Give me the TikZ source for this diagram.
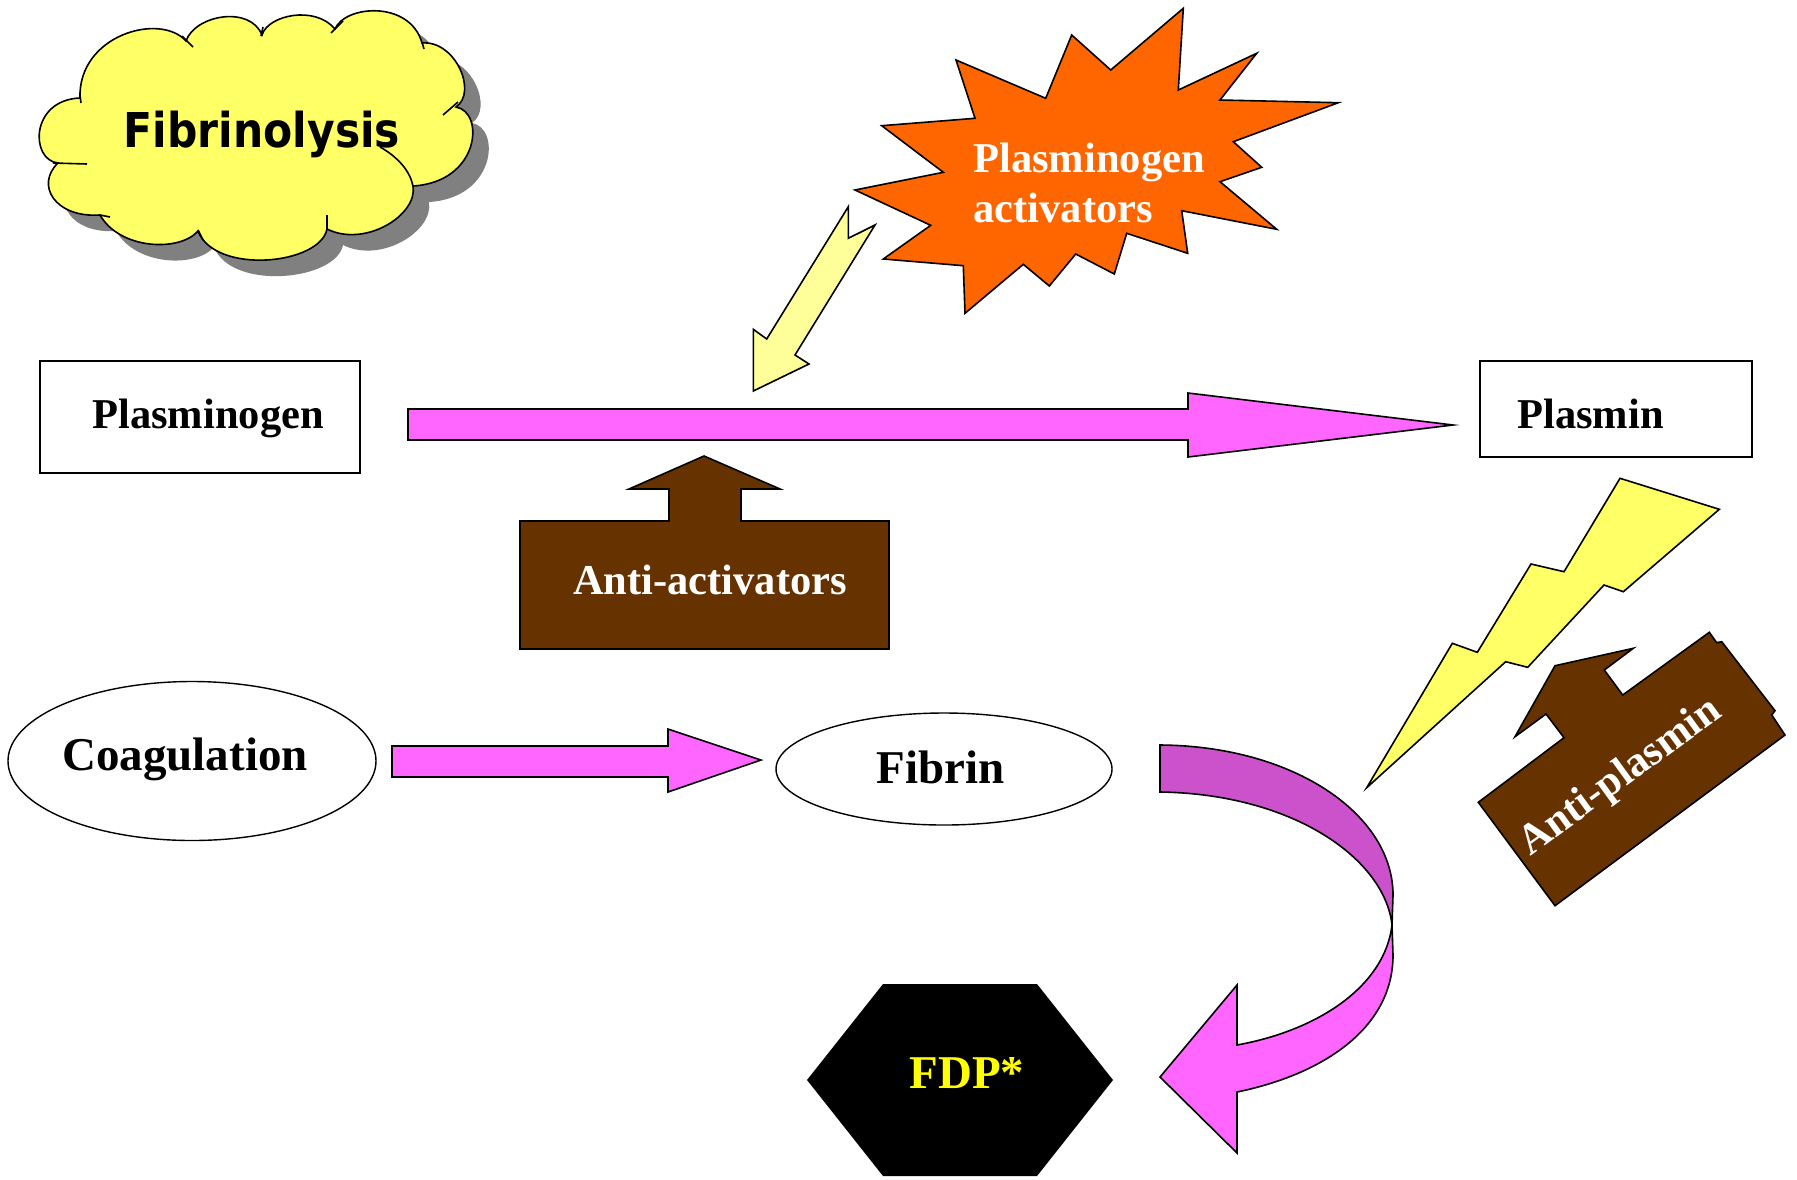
\documentclass[tikz,border=0pt]{standalone}
\usepackage{fontspec}
\setmainfont{Liberation Serif}
\newfontfamily\cloudfont{DejaVu Sans}
\usetikzlibrary{shapes.geometric}
\definecolor{cloudyellow}{HTML}{FFFF66}
\definecolor{shadowgray}{HTML}{808080}
\definecolor{burstorange}{HTML}{FF6600}
\definecolor{paleyellow}{HTML}{FFFF99}
\definecolor{arrowmagenta}{HTML}{FF66FF}
\definecolor{bandpurple}{HTML}{CC52CC}
\definecolor{brownbox}{HTML}{663300}
\definecolor{fdpyellow}{HTML}{FFFF00}
\begin{document}
\begin{tikzpicture}[x=0.5pt,y=-0.5pt,line join=miter,
  outl/.style={draw=black,line width=0.8pt},
  boxstyle/.style={draw=black,line width=1pt,inner sep=0pt,rectangle},
  ellstyle/.style={draw=black,line width=0.7pt,inner sep=0pt,ellipse},
  lbl/.style={font=\fontsize{21.25}{25}\selectfont\bfseries,inner sep=0pt},
  biglbl/.style={font=\fontsize{23.5}{28}\selectfont\bfseries,inner sep=0pt}]
\useasboundingbox (0,0) rectangle (1797,1179);
\fill[white] (0,0) rectangle (1797,1179);

% ---------- cloud ----------
\def\cloudpath{(80,98)
 .. controls (78,35) and (160,12) .. (186,41)
 .. controls (195,15) and (250,5) .. (262,35)
 .. controls (268,15) and (315,5) .. (335,29)
 .. controls (345,5) and (410,0) .. (422,43)
 .. controls (455,40) and (478,92) .. (456,107)
 .. controls (485,112) and (480,182) .. (413,186)
 .. controls (418,215) and (365,248) .. (327,229)
 .. controls (320,265) and (215,275) .. (198,231)
 .. controls (180,252) and (120,250) .. (100,215)
 .. controls (55,218) and (35,185) .. (58,163)
 .. controls (30,160) and (30,100) .. (80,98) -- cycle}
\begin{scope}[shift={(16,16)}]
  \fill[shadowgray] \cloudpath;
\end{scope}
\path[fill=cloudyellow,outl] \cloudpath;
\draw[line width=0.8pt] (182,36) -- (193,47);
\draw[line width=0.8pt] (263,27) -- (261,36);
\draw[line width=0.8pt] (331,33) -- (343,21);
\draw[line width=0.8pt] (422,42) -- (424,49);
\draw[line width=0.8pt] (443,115) -- (458,102);
\draw[line width=0.8pt] (380,147) .. controls (398,157) and (411,172) .. (413,187);
\draw[line width=0.8pt] (327,215) -- (327,230);
\draw[line width=0.8pt] (198,230) -- (203,240);
\draw[line width=0.8pt] (100,215) -- (110,217);
\draw[line width=0.8pt] (53,163) -- (87,164);
\draw[line width=0.8pt] (80,95) -- (81,103);
\node[font=\cloudfont\bfseries\fontsize{24}{28}\selectfont,inner sep=0pt,xscale=0.885,anchor=base] (title) at (262,147) {Fibrinolysis};

% ---------- starburst ----------
\path[fill=burstorange,outl] (1183.3,8.3) -- (1178.3,90) -- (1256.7,53.3) -- (1220,100) -- (1338.3,102.7) -- (1233.3,141.7) -- (1261.7,167.3) -- (1220,181.7) -- (1276.7,229.3) -- (1181.7,210.7) -- (1187.7,253.3) -- (1126.7,233.3) -- (1114.3,274) -- (1075.7,254) -- (1049.3,286) -- (1023.3,264.3) -- (965,313.3) -- (963.3,265.7) -- (883.3,259) -- (930.7,225.3) -- (855,190) -- (943.3,172.3) -- (881.7,125.7) -- (975,118.3) -- (956,60) -- (1045.7,98.3) -- (1071.7,35) -- (1110.7,70) -- cycle;
\node[lbl,text=white,anchor=base west] (pa1) at (973,172) {Plasminogen};
\node[lbl,text=white,anchor=base west] (pa2) at (973,222) {activators};

% ---------- pale yellow arrow ----------
\path[fill=paleyellow,outl] (848.3,206.7) -- (848.3,238.3) -- (875,225) -- (795,355) -- (809,364) -- (753.3,391) -- (753.3,329.3) -- (766.7,339) -- cycle;

% ---------- boxes ----------
\node[boxstyle,minimum width=160pt,minimum height=56pt] (plgbox) at (200,417) {};
\node[lbl,anchor=base west] (plg) at (92,428) {Plasminogen};
\node[boxstyle,minimum width=136pt,minimum height=48pt] (plsbox) at (1616,409) {};
\node[lbl,anchor=base west] (pls) at (1517,428) {Plasmin};

% ---------- main magenta arrow ----------
\path[fill=arrowmagenta,outl] (408,409) -- (1188,409) -- (1188,393) -- (1453,425) -- (1188,457) -- (1188,440) -- (408,440) -- cycle;

% ---------- anti-activators ----------
\path[fill=brownbox,outl] (520,521) -- (669,521) -- (669,489) -- (629,489) -- (704,456) -- (780,489) -- (741,489) -- (741,521) -- (889,521) -- (889,649) -- (520,649) -- cycle;
\node[lbl,text=white,anchor=base] (aa) at (710,594) {Anti-activators};

% ---------- lightning bolt ----------
\path[fill=cloudyellow,outl] (1620,478.3) -- (1719.3,509.3) -- (1623.3,591.7) -- (1604,585) -- (1527.7,667.3) -- (1505.7,661.7) -- (1366.7,787.7) -- (1452.3,643.3) -- (1477.3,652.3) -- (1531,564) -- (1564,571.7) -- cycle;

% ---------- anti-plasmin ----------
\path[fill=brownbox,outl] (1709.3,632.3) -- (1716.7,642.7) -- (1721.7,641.7) -- (1775,710.7) -- (1771.7,715) -- (1785,735) -- (1555,905.7) -- (1478.3,802.3) -- (1564,737.7) -- (1546,714) -- (1515,736.7) -- (1555,665.7) -- (1633.3,648.3) -- (1604.3,670) -- (1622.7,695) -- cycle;
\node[lbl,text=white,rotate=36,anchor=base] (ap) at (1627,786) {Anti-plasmin};

% ---------- coagulation / fibrin ----------
\node[ellstyle,minimum width=184pt,minimum height=79.5pt] (coagell) at (192,761) {};
\node[biglbl,anchor=base] (coag) at (185,770) {Coagulation};
\path[fill=arrowmagenta,outl] (392,746) -- (668,746) -- (668,729) -- (761,760) -- (668,792) -- (668,777) -- (392,777) -- cycle;
\node[ellstyle,minimum width=168pt,minimum height=56pt] (fibell) at (944,769) {};
\node[biglbl,anchor=base] (fib) at (940.5,783) {Fibrin};

% ---------- curved arrow ----------
\path[fill=bandpurple,outl] (1160,745) -- (1160,792) .. controls (1295,794) and (1385,860) .. (1392,925) -- (1393,895) .. controls (1393,815) and (1295,746) .. (1160,745) -- cycle;
\path[fill=arrowmagenta,outl] (1392,925) -- (1393,955) .. controls (1393,1030) and (1320,1075) .. (1237,1092) -- (1237,1153) -- (1160,1077) -- (1237,985) -- (1237,1045) .. controls (1320,1030) and (1385,985) .. (1392,925) -- cycle;

% ---------- FDP hexagon ----------
\path[fill=black] (807,1080) -- (883,984) -- (1037,984) -- (1113,1080) -- (1037,1176) -- (883,1176) -- cycle;
\node[biglbl,text=fdpyellow,anchor=base] (fdp) at (967,1088) {FDP*};
\end{tikzpicture}
\end{document}
